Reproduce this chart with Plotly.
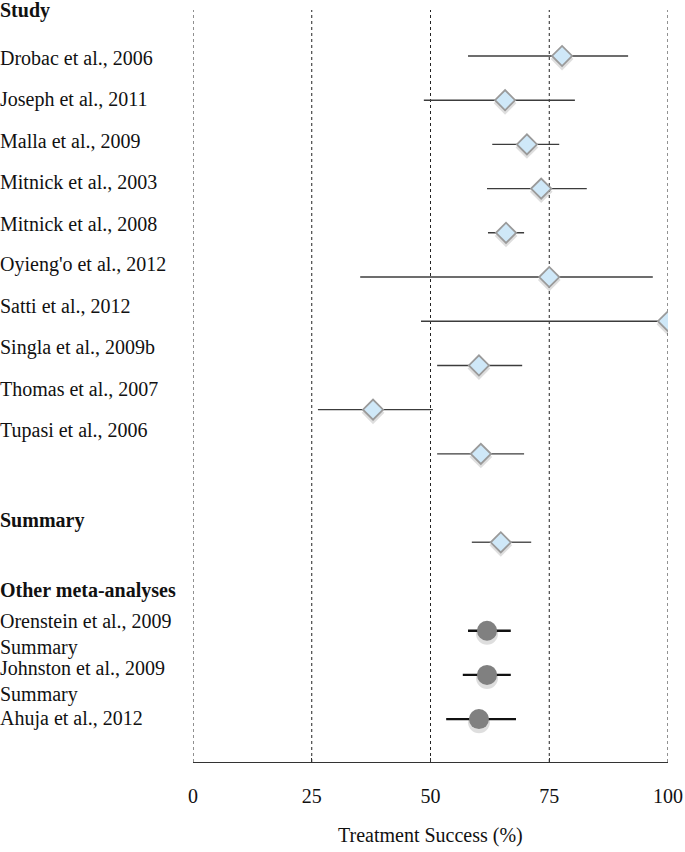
import plotly.graph_objects as go

# ---- data ----
studies = ["Drobac et al., 2006", "Joseph et al., 2011", "Malla et al., 2009",
           "Mitnick et al., 2003", "Mitnick et al., 2008", "Oyieng'o et al., 2012",
           "Satti et al., 2012", "Singla et al., 2009b", "Thomas et al., 2007",
           "Tupasi et al., 2006"]
study_est = [77.7, 65.7, 70.3, 73.3, 65.9, 75.0, 100.0, 60.2, 37.9, 60.6]
study_lo = [57.9, 48.6, 63.0, 61.9, 62.1, 35.2, 48.0, 51.4, 26.3, 51.4]
study_hi = [91.6, 80.4, 77.1, 82.9, 69.7, 96.8, 100.0, 69.3, 50.5, 69.7]
study_row = [1, 2, 3, 4, 5, 6, 7, 8, 9, 10]

summary_est = [64.8]
summary_lo = [58.7]
summary_hi = [71.2]
summary_row = [12]

meta = ["Orenstein et al., 2009<br>Summary", "Johnston et al., 2009<br>Summary",
        "Ahuja et al., 2012"]
meta_est = [61.9, 61.9, 60.2]
meta_lo = [57.9, 56.8, 53.3]
meta_hi = [66.9, 66.9, 68.0]
meta_row = [14, 15, 16]

x_ticks = [0, 25, 50, 75, 100]
x_title = "Treatment Success (%)"

# ---- figure ----
FONT = "Liberation Serif, Times New Roman, serif"
fig = go.Figure()

def err(est, lo, hi):
    return dict(type="data", symmetric=False,
                array=[h - e for e, h in zip(est, hi)],
                arrayminus=[e - l for e, l in zip(est, lo)])

diamond_marker = dict(symbol="diamond", size=15.5, color="#cfe8f8",
                      line=dict(color="#9a9a9a", width=1.8))
SHADOW = 0.07  # soft drop shadow offset, in row units

# drop shadows (drawn first, under everything)
for est, row, sym, size in [(study_est, study_row, "diamond", 17.5),
                            (summary_est, summary_row, "diamond", 17.5),
                            (meta_est, meta_row, "circle", 22)]:
    fig.add_trace(go.Scatter(
        x=est, y=[r + SHADOW for r in row], mode="markers", hoverinfo="skip",
        marker=dict(symbol=sym, size=size, color="rgba(0,0,0,0.13)",
                    line=dict(width=0)), showlegend=False))

fig.add_trace(go.Scatter(
    x=study_est, y=study_row, mode="markers",
    error_x=dict(**err(study_est, study_lo, study_hi), width=0,
                 thickness=1.4, color="#3c3c3c"),
    marker=diamond_marker, showlegend=False))

fig.add_trace(go.Scatter(
    x=summary_est, y=summary_row, mode="markers",
    error_x=dict(**err(summary_est, summary_lo, summary_hi), width=0,
                 thickness=1.4, color="#555555"),
    marker=diamond_marker, showlegend=False))

fig.add_trace(go.Scatter(
    x=meta_est, y=meta_row, mode="markers",
    error_x=dict(**err(meta_est, meta_lo, meta_hi), width=0,
                 thickness=2.4, color="#111111"),
    marker=dict(symbol="circle", size=20, color="#808080",
                line=dict(width=0)),
    showlegend=False))

# dashed reference lines at every tick (including the edges)
for v in x_ticks:
    fig.add_shape(type="line", xref="x", yref="paper", x0=v, x1=v, y0=0, y1=1,
                  line=dict(color="#222222", width=1, dash="3px,3px"),
                  layer="below")

# ---- left-hand labels ----
label_font = dict(family=FONT, size=20, color="#111111")
LX = -0.4105
annos = []
def add_label(text, y, bold=False, yref="y"):
    annos.append(dict(text=f"<b>{text}</b>" if bold else text,
                      xref="paper", x=LX, xanchor="left",
                      yref=yref, y=y, yanchor="middle",
                      align="left", showarrow=False, font=label_font))

add_label("Study", 0.9987, bold=True, yref="paper")
for i, s in enumerate(studies):
    add_label(s, 1.05 + i * 0.935)
add_label("Summary", 11.5, bold=True)
add_label("Other meta-analyses", 13.08, bold=True)
for s, y in zip(meta, [14.08, 15.14, 15.98]):
    add_label(s, y)

annos.append(dict(text=x_title, xref="paper", x=0.5, xanchor="center",
                  yref="paper", y=0, yanchor="middle", yshift=-73,
                  showarrow=False, font=label_font))

fig.update_layout(
    width=685, height=852, autosize=False,
    margin=dict(l=193, r=17, t=10, b=90, autoexpand=False),
    paper_bgcolor="white", plot_bgcolor="white",
    annotations=annos,
    xaxis=dict(range=[0, 100], tickvals=x_ticks, ticktext=[str(v) for v in x_ticks],
               automargin=False,
               showgrid=False, zeroline=False, showline=True,
               linecolor="#333333", linewidth=1.2,
               ticks="inside", ticklen=4, tickcolor="#333333",
               ticklabelstandoff=16,
               tickfont=dict(family=FONT, size=20, color="#111111")),
    yaxis=dict(range=[16.97, -0.04], showgrid=False, zeroline=False,
               automargin=False,
               showticklabels=False, showline=False, ticks=""),
    showlegend=False,
)

# remove the default 8px page margin so the figure fills the window exactly
fig.write_html("out.html", config={"displayModeBar": False},
               post_script="document.body.style.margin='0';"
                           "document.body.style.overflow='hidden';")
